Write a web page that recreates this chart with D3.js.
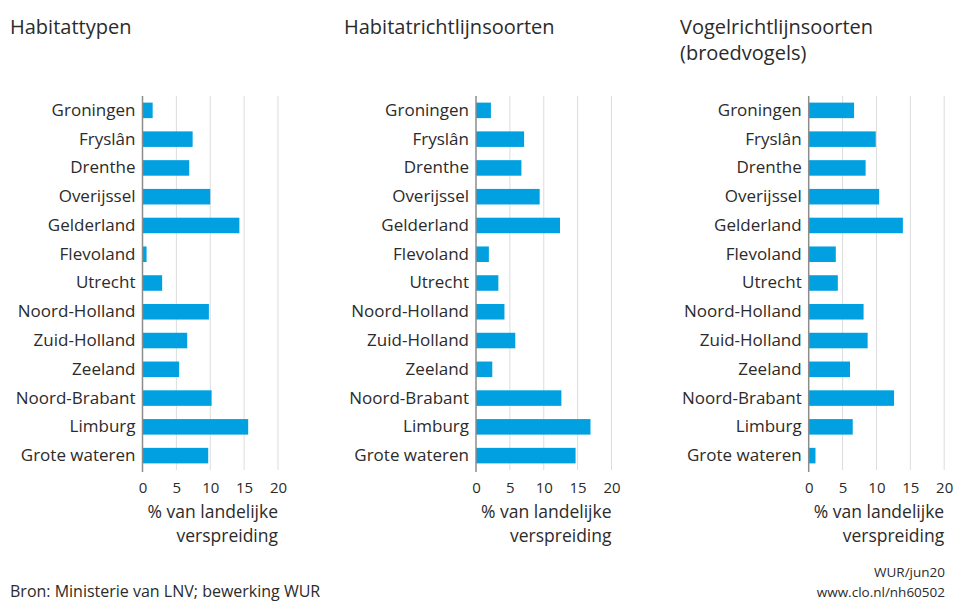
<!DOCTYPE html>
<html>
<head>
<meta charset="utf-8">
<script src="https://cdn.jsdelivr.net/npm/d3@7"></script>
<style>
  body { margin: 0; background: #fff; }
  text { font-family: "Open Sans", sans-serif; fill: #2b2b2b; }
</style>
</head>
<body>
<div id="chart"></div>
<script>
// data
var provinces = ["Groningen", "Fryslân", "Drenthe", "Overijssel", "Gelderland", "Flevoland",
  "Utrecht", "Noord-Holland", "Zuid-Holland", "Zeeland", "Noord-Brabant", "Limburg", "Grote wateren"];

var habitattypen = [1.5, 7.4, 6.9, 10.0, 14.3, 0.6, 2.9, 9.8, 6.6, 5.4, 10.2, 15.6, 9.7];
var habitatSoorten = [2.2, 7.1, 6.7, 9.4, 12.4, 1.9, 3.3, 4.2, 5.8, 2.4, 12.6, 16.9, 14.7];
var vogelSoorten = [6.7, 9.9, 8.4, 10.4, 13.9, 4.0, 4.3, 8.1, 8.7, 6.1, 12.6, 6.5, 1.0];

var xTicks = [0, 5, 10, 15, 20];
var panelTitles = [["Habitattypen"], ["Habitatrichtlijnsoorten"], ["Vogelrichtlijnsoorten", "(broedvogels)"]];
var axisLabel = ["% van landelijke", "verspreiding"];

var svgWidth = 955;
var svgHeight = 601;

var svg = d3.select("#chart")
  .append("svg")
  .attr("width", svgWidth)
  .attr("height", svgHeight);

var panels = [
  { title: panelTitles[0], values: habitattypen, titleX: 10, x0: 142.5 },
  { title: panelTitles[1], values: habitatSoorten, titleX: 344, x0: 476 },
  { title: panelTitles[2], values: vogelSoorten, titleX: 680, x0: 808.7 }
];

var plotWidth = 135.5;
var plotTop = 96, plotBottom = 470;

var yScale = d3.scaleBand()
  .domain(provinces)
  .range([plotTop, plotBottom])
  .paddingInner(0.46)
  .paddingOuter(0.23);

panels.forEach(function(p) {
  var xScale = d3.scaleLinear()
    .domain([0, 20])
    .range([p.x0, p.x0 + plotWidth]);

  // title
  svg.append("g").selectAll("text")
    .data(p.title)
    .enter()
    .append("text")
    .attr("x", p.titleX)
    .attr("y", (d, i) => 34 + i * 26)
    .attr("font-size", "20px")
    .text(d => d);

  // gridlines
  svg.append("g").selectAll("line")
    .data(xTicks.slice(1))
    .enter()
    .append("line")
    .attr("x1", d => xScale(d))
    .attr("x2", d => xScale(d))
    .attr("y1", plotTop)
    .attr("y2", plotBottom)
    .attr("stroke", "#dcdcdc")
    .attr("stroke-width", 1);

  // bars
  svg.append("g").selectAll("rect")
    .data(p.values)
    .enter()
    .append("rect")
    .attr("x", xScale(0))
    .attr("y", (d, i) => yScale(provinces[i]))
    .attr("width", d => xScale(d) - xScale(0))
    .attr("height", yScale.bandwidth())
    .attr("fill", "#00a0e1");

  // zero line
  svg.append("line")
    .attr("x1", xScale(0))
    .attr("x2", xScale(0))
    .attr("y1", plotTop)
    .attr("y2", plotBottom + 2)
    .attr("stroke", "#8c8c8c")
    .attr("stroke-width", 1.5);

  // category labels
  var yAxis = svg.append("g")
    .attr("transform", `translate(${xScale(0) - 7}, 0)`)
    .call(d3.axisLeft(yScale).tickSize(0).tickPadding(0));
  yAxis.select(".domain").remove();
  yAxis.selectAll("text")
    .attr("font-size", "17px")
    .style("font-family", "'Open Sans', sans-serif")
    .style("fill", "#2b2b2b");

  // x axis tick labels
  var xAxis = svg.append("g")
    .attr("transform", `translate(0, ${plotBottom + 12})`)
    .call(d3.axisBottom(xScale).tickValues(xTicks).tickSize(0).tickPadding(0));
  xAxis.select(".domain").remove();
  xAxis.selectAll("text")
    .attr("font-size", "15px")
    .style("font-family", "'Open Sans', sans-serif")
    .style("fill", "#2b2b2b");

  // axis title
  svg.append("g").selectAll("text")
    .data(axisLabel)
    .enter()
    .append("text")
    .attr("x", xScale(20))
    .attr("y", (d, i) => 518 + i * 24)
    .attr("text-anchor", "end")
    .attr("font-size", "17.5px")
    .text(d => d);
});

// footer
svg.append("text")
  .attr("x", 10)
  .attr("y", 597)
  .attr("font-size", "16px")
  .text("Bron: Ministerie van LNV; bewerking WUR");

svg.append("text")
  .attr("x", 945)
  .attr("y", 577)
  .attr("text-anchor", "end")
  .attr("font-size", "13.5px")
  .text("WUR/jun20");

svg.append("text")
  .attr("x", 945)
  .attr("y", 597)
  .attr("text-anchor", "end")
  .attr("font-size", "13.5px")
  .text("www.clo.nl/nh60502");
</script>
</body>
</html>
